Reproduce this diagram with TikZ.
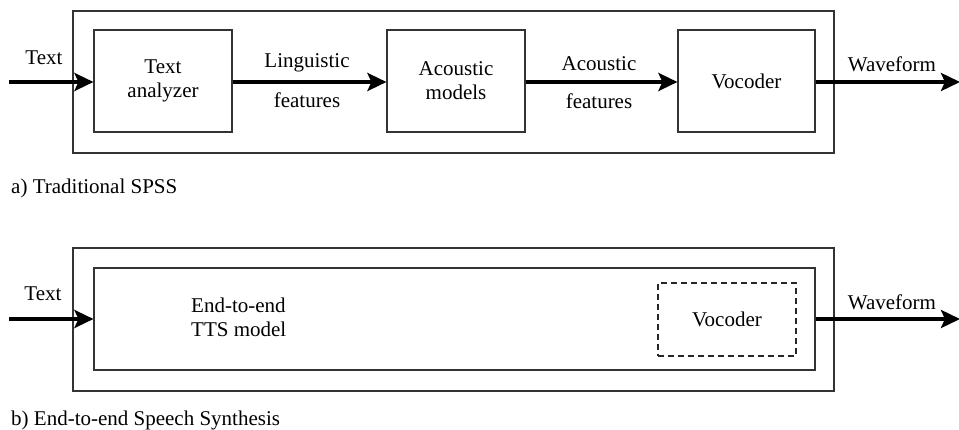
\documentclass[tikz,border=0pt]{standalone}
\usepackage{fontspec}
\setmainfont{Liberation Serif}
\usetikzlibrary{arrows.meta}
\begin{document}
\begin{tikzpicture}[x=1pt,y=-1pt,
  font=\fontsize{21}{24}\selectfont,
  frame/.style={draw=black!80, line width=1.1pt, inner sep=0pt},
  blockbox/.style={frame, align=center},
  dashbox/.style={draw=black!85, line width=1.3pt, dash pattern=on 6pt off 4pt, inner sep=0pt},
  flow/.style={line width=4pt, -{Stealth[length=19pt,width=18pt,inset=4pt]}},
  lbl/.style={inner sep=0pt}
]
\useasboundingbox (0,0) rectangle (959,430);

% ---- a) Traditional SPSS ----
\node[frame, minimum width=761pt, minimum height=142pt] (outerA) at (453.5,82) {};
\node[blockbox, minimum width=138pt, minimum height=102pt] (ta) at (163,81) {Text\\analyzer};
\node[blockbox, minimum width=138pt, minimum height=102pt] (am) at (456,81) {Acoustic\\models};
\node[blockbox, minimum width=137pt, minimum height=102pt] (voc) at (746.5,81) {Vocoder};
\coordinate (inA) at (9,82);
\coordinate (outA) at (960,82);

\draw[flow] (inA) -- (inA -| ta.west);
\draw[flow] (ta.east |- inA) -- (am.west |- inA);
\draw[flow] (am.east |- inA) -- (voc.west |- inA);
\draw[flow] (voc.east |- inA) -- (outA);

\node[lbl] (tA) at (44,58) {Text};
\node[lbl] (lf1) at (307,63) {Linguistic};
\node[lbl] (lf2) at (307,100) {features};
\node[lbl] (af1) at (599,64) {Acoustic};
\node[lbl] (af2) at (599,101) {features};
\node[lbl] (wA) at (892,64) {Waveform};
\node[lbl, anchor=west] (capA) at (11,188) {a) Traditional SPSS};

% ---- b) End-to-end Speech Synthesis ----
\node[frame, minimum width=761pt, minimum height=143pt] (outerB) at (453.5,319.5) {};
\node[frame, minimum width=721pt, minimum height=102pt] (e2e) at (454.5,319) {};
\node[dashbox, minimum width=138pt, minimum height=73pt] (vocB) at (727,319.5) {Vocoder};
\coordinate (inB) at (9,319);
\coordinate (outB) at (960,319);

\draw[flow] (inB) -- (inB -| e2e.west);
\draw[flow] (e2e.east |- inB) -- (outB);

\node[lbl] (tB) at (43,294) {Text};
\node[lbl, anchor=west, align=left] (e2eText) at (191,317) {End-to-end\\TTS model};
\node[lbl] (wB) at (892,302) {Waveform};
\node[lbl, anchor=west] (capB) at (11,420) {b) End-to-end Speech Synthesis};
\end{tikzpicture}
\end{document}
